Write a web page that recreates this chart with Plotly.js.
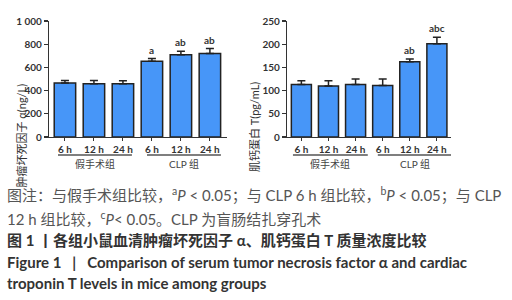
<!DOCTYPE html>
<html>
<head>
<meta charset="utf-8">
<script src="https://cdn.plot.ly/plotly-3.0.1.min.js"></script>
<style>html,body{margin:0;padding:0;background:#fff;}#chart{width:512px;height:300px;}</style>
</head>
<body>
<div id="chart"></div>
<script>
// ---- data ----
var timeLabels = ["6 h", "12 h", "24 h", "6 h", "12 h", "24 h"];
var groupLabels = ["假手术组", "CLP 组"];
var tnfMean = [466, 460, 460, 652, 710, 720];
var tnfErr = [20, 26, 24, 24, 30, 42];
var tnfSig = ["", "", "", "a", "ab", "ab"];
var ctntMean = [113, 110, 113, 111, 162, 201];
var ctntErr = [8, 11, 12, 14, 6, 14];
var ctntSig = ["", "", "", "", "ab", "abc"];
var tnfTicks = [0, 200, 400, 600, 800, 1000];
var tnfTickText = ["0", "200", "400", "600", "800", "1 000"];
var ctntTicks = [0, 50, 100, 150, 200, 250];
var tnfTitle = "肿瘤坏死因子 α(ng/L)";
var ctntTitle = "肌钙蛋白 T(pg/mL)";
var captionLines = [
  "图注：与假手术组比较，<sup>a</sup><i>P</i> < 0.05；与 CLP 6 h 组比较，<sup>b</sup><i>P</i> < 0.05；与 CLP",
  "12 h 组比较，<sup>c</sup><i>P</i>< 0.05。CLP 为盲肠结扎穿孔术"
];
var figTitleCn = "图 1 丨各组小鼠血清肿瘤坏死因子 α、肌钙蛋白 T 质量浓度比较";
var figTitleEn = ["Figure 1\u00a0\u00a0\u00a0|\u00a0\u00a0\u00a0Comparison of serum tumor necrosis factor α and cardiac", "troponin T levels in mice among groups"];

var xs = timeLabels.map(function(_, i){ return i; });
var FONT = "Lato, 'Noto Sans CJK SC', sans-serif";
var barColor = "#4796f8";
var dark = "#222";

function barTrace(y, err, xa, ya) {
  return {
    type: "bar", x: xs, y: y, xaxis: xa, yaxis: ya,
    marker: {color: barColor, line: {color: dark, width: 1.5}},
    width: 0.74,
    error_y: {type: "data", symmetric: false, array: err, arrayminus: err.map(function(){return 0;}),
              color: dark, thickness: 1.5, width: 4},
    hoverinfo: "none", showlegend: false
  };
}

var data = [barTrace(tnfMean, tnfErr, "x", "y"), barTrace(ctntMean, ctntErr, "x2", "y2")];

var tickFont = {family: FONT, size: 10, color: "#333", weight: "bold"};
function xaxis(domain, range, anchor) {
  return {domain: domain, range: range, anchor: anchor, tickvals: xs, ticktext: timeLabels,
          ticks: "outside", ticklen: 3, tickwidth: 1, tickcolor: "#333",
          showline: true, linecolor: "#333", linewidth: 1.2, showgrid: false, zeroline: false,
          tickfont: tickFont, fixedrange: true};
}
function yaxis(domain, range, anchor, tv, tt) {
  return {domain: domain, range: range, anchor: anchor, tickvals: tv, ticktext: tt,
          ticks: "outside", ticklen: 4, tickwidth: 1.2, tickcolor: "#333",
          showline: true, linecolor: "#333", linewidth: 1.2, showgrid: false, zeroline: false,
          tickfont: tickFont, fixedrange: true};
}

var W = 512, H = 300;
function px(v){ return v / W; }
function py(v){ return (H - v) / H; }

var annotations = [];
var shapes = [];

function sigAnn(means, errs, sig, xr, yr) {
  for (var i = 0; i < means.length; i++) {
    if (!sig[i]) continue;
    annotations.push({x: i, y: means[i] + errs[i], xref: xr, yref: yr, text: sig[i],
      showarrow: false, yanchor: "bottom", yshift: 1,
      font: {family: FONT, size: 10, color: "#333", weight: "bold"}});
  }
}
sigAnn(tnfMean, tnfErr, tnfSig, "x", "y");
sigAnn(ctntMean, ctntErr, ctntSig, "x2", "y2");

function groupLines(xr, a0, a1, b0, b1) {
  var lineY = py(155), labY = py(164);
  [[a0, a1, groupLabels[0]], [b0, b1, groupLabels[1]]].forEach(function(g){
    shapes.push({type: "line", xref: xr, yref: "paper", x0: g[0], x1: g[1], y0: lineY, y1: lineY,
                 line: {color: "#555", width: 1.5}});
    annotations.push({x: (g[0] + g[1]) / 2, y: labY, xref: xr, yref: "paper", text: g[2],
      showarrow: false, yanchor: "middle", font: {family: FONT, size: 10, color: "#444"}});
  });
}
groupLines("x", -0.24, 2.31, 2.83, 5.38);
groupLines("x2", -0.31, 2.45, 2.82, 5.55);

// axis titles
annotations.push({x: px(12), y: py(82), xref: "paper", yref: "paper", text: tnfTitle, textangle: -90,
  showarrow: false, font: {family: FONT, size: 11, color: "#333"}});
annotations.push({x: px(254), y: py(80), xref: "paper", yref: "paper", text: ctntTitle, textangle: -90,
  showarrow: false, font: {family: FONT, size: 11, color: "#333"}});

// caption lines
var capFont = {family: FONT, size: 15, color: "#555"};
var titleFont = {family: FONT, size: 15, color: "#333", weight: "bold"};
function capAnn(text, y, font) {
  annotations.push({x: px(5), y: py(y), xref: "paper", yref: "paper", xanchor: "left", yanchor: "middle",
    text: text, showarrow: false, font: font});
}
capAnn(captionLines[0], 195, capFont);
capAnn(captionLines[1], 218, capFont);
capAnn(figTitleCn, 240, titleFont);
capAnn(figTitleEn[0], 262, titleFont);
capAnn(figTitleEn[1], 283, titleFont);

var layout = {
  width: W, height: H, margin: {l: 0, r: 0, t: 0, b: 0},
  paper_bgcolor: "#fff", plot_bgcolor: "#fff",
  bargap: 0.26,
  xaxis: xaxis([px(49), px(227)], [-0.55, 5.59], "y"),
  yaxis: yaxis([py(137), py(21)], [0, 1000], "x", tnfTicks, tnfTickText),
  xaxis2: xaxis([px(287), px(451)], [-0.53, 5.52], "y2"),
  yaxis2: yaxis([py(137), py(21)], [0, 250], "x2", ctntTicks, ctntTicks.map(String)),
  annotations: annotations, shapes: shapes, showlegend: false
};

Plotly.newPlot("chart", data, layout, {staticPlot: true, displayModeBar: false});
</script>
</body>
</html>
